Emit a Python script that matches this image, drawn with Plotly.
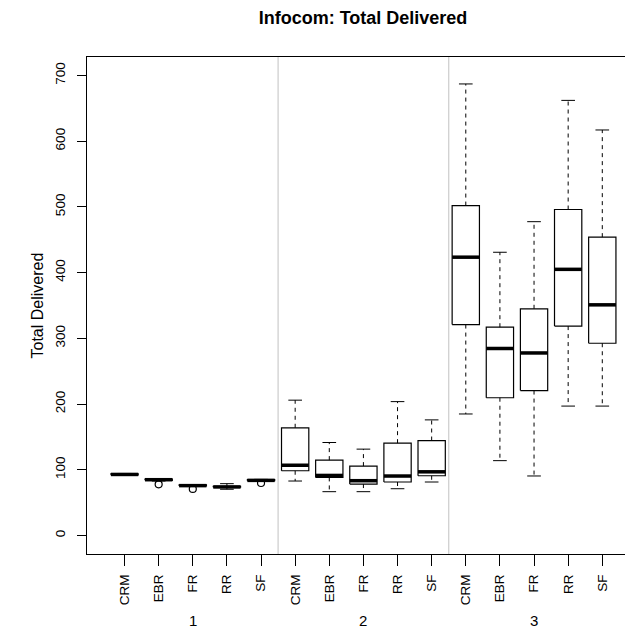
import plotly.graph_objs as go

groups = ["1", "2", "3"]
methods = ["CRM", "EBR", "FR", "RR", "SF"]

# five-number summaries per box, group 1 then 2 then 3 (CRM, EBR, FR, RR, SF)
lower = [92, 83, 75, 70.5, 82.5,
         83, 66.8, 66.8, 71.3, 81.5,
         185, 114, 90.7, 197, 197]
q1 = [92.5, 84, 75.5, 73.5, 83.5,
      98.6, 88.5, 78.4, 81.5, 91,
      321, 209.7, 220.6, 318.7, 292.6]
med = [93, 85, 76, 74, 84,
       107, 91.5, 83.5, 90.6, 97,
       423.5, 284.6, 277.8, 405, 351]
q3 = [94, 86, 77, 75, 85,
      164, 114.8, 105.7, 140.6, 144.6,
      502, 317, 345, 496, 454]
upper = [94.5, 86.5, 77.5, 79, 85.5,
         206, 141.6, 131.5, 203.8, 176,
         687, 431, 477.5, 662, 617]
outliers = [[], [78], [71], [], [80],
            [], [], [], [], [],
            [], [], [], [], []]

pos = list(range(1, len(lower) + 1))
hw = 0.4   # half box width
cw = 0.2   # half cap width

bx, by, mx, my, wx, wy, cx, cy, ox, oy = [], [], [], [], [], [], [], [], [], []
for i, p in enumerate(pos):
    bx += [p - hw, p + hw, p + hw, p - hw, p - hw, None]
    by += [q1[i], q1[i], q3[i], q3[i], q1[i], None]
    mx += [p - hw, p + hw, None]
    my += [med[i], med[i], None]
    wx += [p, p, None, p, p, None]
    wy += [q3[i], upper[i], None, q1[i], lower[i], None]
    cx += [p - cw, p + cw, None, p - cw, p + cw, None]
    cy += [upper[i], upper[i], None, lower[i], lower[i], None]
    for o in outliers[i]:
        ox.append(p)
        oy.append(o)

fig = go.Figure()
fig.add_trace(go.Scatter(x=wx, y=wy, mode="lines", line=dict(color="black", width=1, dash="4px,4px"), hoverinfo="skip"))
fig.add_trace(go.Scatter(x=cx, y=cy, mode="lines", line=dict(color="black", width=1), hoverinfo="skip"))
fig.add_trace(go.Scatter(x=bx, y=by, mode="lines", line=dict(color="black", width=1.2), hoverinfo="skip"))
fig.add_trace(go.Scatter(x=mx, y=my, mode="lines", line=dict(color="black", width=3.5), hoverinfo="skip"))
fig.add_trace(go.Scatter(x=ox, y=oy, mode="markers",
                         marker=dict(symbol="circle-open", size=7, color="black", line=dict(width=1.2)),
                         hoverinfo="skip"))

# grey separators between groups
n = len(methods)
for g in range(1, len(groups)):
    fig.add_shape(type="line", xref="x", yref="paper", x0=g * n + 0.5, x1=g * n + 0.5, y0=0, y1=1,
                  line=dict(color="#cccccc", width=1.2), layer="below")

# group labels under the method labels (page is offset 8px by the body margin)
for g, name in enumerate(groups):
    fig.add_annotation(text=name, xref="x", yref="paper", x=g * n + (n + 1) / 2, y=-(620 - 554) / 497,
                       showarrow=False, font=dict(size=15), yanchor="middle")

fig.add_annotation(text="Total Delivered", xref="paper", yref="paper", x=(37 - 87) / 546, y=0.5,
                   textangle=-90, showarrow=False, font=dict(size=16), xanchor="center", yanchor="middle")

fig.layout.title = dict(text="<b>Infocom: Total Delivered</b>", x=(363 - 8) / 625, xref="container",
                        y=1 - (18 - 8) / 623, yref="container", xanchor="center", yanchor="middle",
                        font=dict(size=18, color="black"))
fig.layout.width = 625
fig.layout.height = 623
fig.layout.margin = dict(l=79, r=0, t=49, b=77)
fig.layout.showlegend = False
fig.layout.plot_bgcolor = "white"
fig.layout.paper_bgcolor = "white"
fig.layout.font = dict(family="Liberation Sans, Arial, sans-serif", color="black", size=13)

fig.layout.xaxis = dict(range=[-0.1, 15.9], tickvals=pos, ticktext=methods * len(groups), tickangle=-90,
                        ticks="outside", ticklen=11, tickcolor="black", showgrid=False, zeroline=False,
                        showline=True, linecolor="black", linewidth=1.2, mirror=True,
                        tickfont=dict(size=13.5), ticklabelstandoff=3)
fig.layout.yaxis = dict(range=[-28, 728], tickvals=[0, 100, 200, 300, 400, 500, 600, 700], tickangle=-90,
                        ticks="outside", ticklen=9, tickcolor="black", showgrid=False, zeroline=False,
                        showline=True, linecolor="black", linewidth=1.2,
                        tickfont=dict(size=13.5), ticklabelstandoff=7)

fig.write_html("out.html")
